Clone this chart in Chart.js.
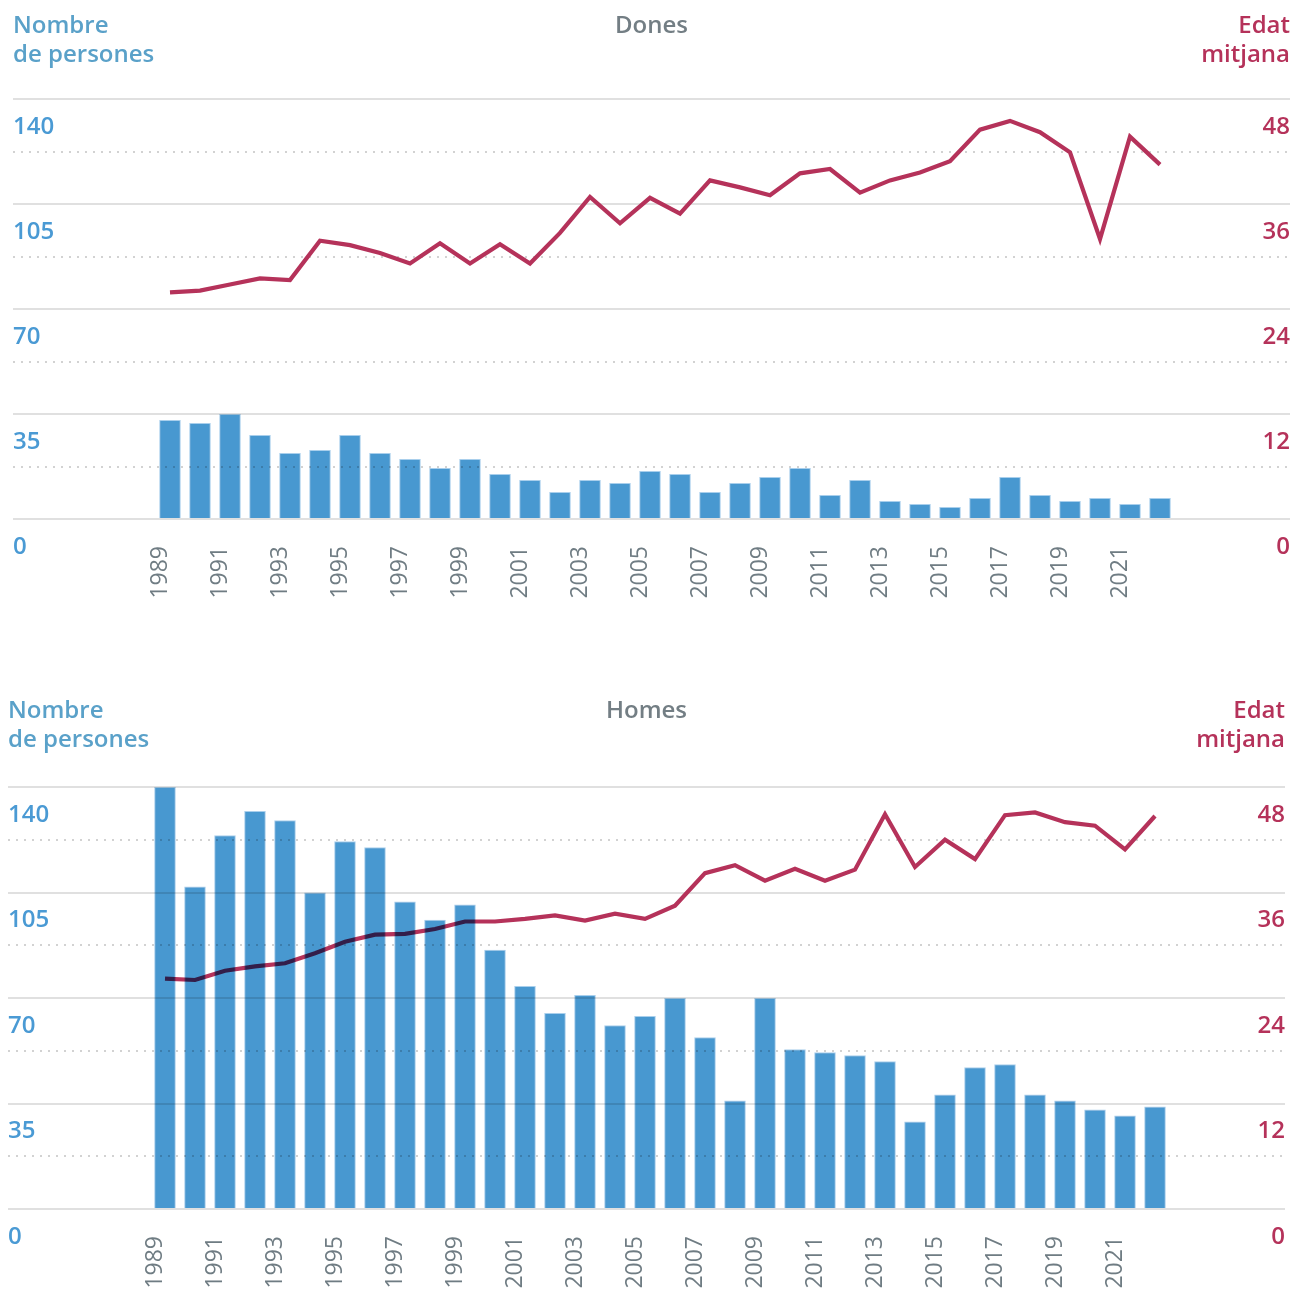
<!DOCTYPE html>
<html>
<head>
<meta charset="utf-8">
<script src="https://cdn.jsdelivr.net/npm/chart.js@4.4.1/dist/chart.umd.min.js"></script>
<style>
  html, body { margin:0; padding:0; background:#fff; }
  body { width:1295px; height:1289px; overflow:hidden; position:relative; font-family:'Open Sans','Noto Sans',sans-serif; }
  .panel { position:absolute; left:0; width:1295px; }
  .panel canvas { position:absolute; left:0; top:0; }
  .hdr { position:absolute; font-size:24px; line-height:29px; font-weight:600; white-space:nowrap; }
  .blue { color:#5aa1c9; }
  .red { color:#b5325a; text-align:right; }
  .ttl { color:#737e84; text-align:center; font-weight:600; }
</style>
</head>
<body>
<div class="panel" id="p1" style="top:0;height:640px;">
  <canvas id="c1" width="1295" height="640"></canvas>
  <div class="hdr blue" style="left:13px;top:9px;">Nombre<br>de persones</div>
  <div class="hdr ttl" style="left:13px;width:1277px;top:9px;">Dones</div>
  <div class="hdr red" style="right:5px;top:9px;">Edat<br>mitjana</div>
</div>
<div class="panel" id="p2" style="top:688px;height:601px;">
  <canvas id="c2" width="1295" height="601"></canvas>
  <div class="hdr blue" style="left:8px;top:6px;">Nombre<br>de persones</div>
  <div class="hdr ttl" style="left:8px;width:1277px;top:6px;">Homes</div>
  <div class="hdr red" style="right:10px;top:6px;">Edat<br>mitjana</div>
</div>
<script>
// ---- data ----
const years = [1989,1990,1991,1992,1993,1994,1995,1996,1997,1998,1999,2000,2001,2002,2003,2004,2005,2006,2007,2008,2009,2010,2011,2012,2013,2014,2015,2016,2017,2018,2019,2020,2021,2022];
const yearTickLabels = [1989,1991,1993,1995,1997,1999,2001,2003,2005,2007,2009,2011,2013,2015,2017,2019,2021];
const leftTicks = [0,35,70,105,140];
const rightTicks = [0,12,24,36,48];

const donesNombre = [33,32,35,28,22,23,28,22,20,17,20,15,13,9,13,12,16,15,9,12,14,17,8,13,6,5,4,7,14,8,6,7,5,7];
const donesEdat = [25.9,26.1,26.8,27.5,27.3,31.8,31.3,30.4,29.2,31.5,29.2,31.4,29.2,32.7,36.8,33.8,36.7,34.9,38.7,37.9,37.0,39.5,40.0,37.3,38.7,39.6,40.9,44.5,45.5,44.2,41.9,32.0,43.7,40.5];

const homesNombre = [140,107,124,132,129,105,122,120,102,96,101,86,74,65,71,61,64,70,57,36,70,53,52,51,49,29,38,47,48,38,36,33,31,34];
const homesEdat = [26.2,26.05,27.1,27.6,27.95,29.1,30.4,31.2,31.3,31.85,32.7,32.7,33.0,33.4,32.8,33.6,33.0,34.5,38.2,39.1,37.35,38.7,37.35,38.6,44.9,38.9,42.0,39.8,44.8,45.1,44.0,43.6,40.9,44.7];

// ---- styling ----
const FONT = "'Open Sans','Noto Sans',sans-serif";
const BAR_COLOR = '#4898d0';
const LINE_COLOR = '#b5325a';

const multiplyBars = {
  id: 'multiplyBars',
  beforeDatasetDraw(chart, args) {
    if (args.meta.type === 'bar') { chart.ctx.save(); chart.ctx.globalCompositeOperation = 'multiply'; }
  },
  afterDatasetDraw(chart, args) {
    if (args.meta.type === 'bar') { chart.ctx.restore(); }
  }
};

function makeChart(id, nombre, edat, padL, padR, xAxisH) {
  const barData = years.map((y, i) => ({ x: y, y: nombre[i] }));
  const lineData = years.map((y, i) => ({ x: y, y: edat[i] }));
  return new Chart(document.getElementById(id), {
    type: 'bar',
    data: {
      datasets: [
        { type: 'bar', data: barData, xAxisID: 'x', yAxisID: 'y', backgroundColor: BAR_COLOR,
          borderColor: '#a9cfec', borderWidth: 1, barPercentage: 0.9, categoryPercentage: 0.8, order: 1 },
        { type: 'line', data: lineData, xAxisID: 'x', yAxisID: 'y1', borderColor: LINE_COLOR,
          borderWidth: 4.2, pointRadius: 0, tension: 0, fill: false, borderJoinStyle: 'miter', order: 2 }
      ]
    },
    options: {
      responsive: false,
      animation: false,
      devicePixelRatio: 1,
      layout: { padding: { left: padL, right: padR, top: 99, bottom: 0 } },
      plugins: { legend: { display: false }, tooltip: { enabled: false }, title: { display: false } },
      scales: {
        x: {
          type: 'linear', min: 1983.767, max: 2026.333, offset: false,
          afterBuildTicks: s => { s.ticks = yearTickLabels.map(v => ({ value: v })); },
          ticks: { autoSkip: false, minRotation: 90, maxRotation: 90, padding: 27, labelOffset: -10,
                   color: '#6f7c83', font: { family: FONT, size: 23, weight: 500 },
                   callback: v => String(v) },
          grid: { display: false, drawTicks: false, offset: false },
          border: { display: false },
          afterFit: s => { s.height = xAxisH; }
        },
        y: {
          position: 'left', min: 0, max: 140,
          afterBuildTicks: s => { s.ticks = leftTicks.map(v => ({ value: v })); },
          ticks: { mirror: true, padding: 0, labelOffset: 28, color: '#4a9ad4',
                   font: { family: FONT, size: 24, weight: 600 }, callback: v => String(v) },
          grid: { color: '#e0e0e0', lineWidth: 2, drawTicks: false },
          border: { display: false },
          afterFit: s => { s.width = 0; }
        },
        y1: {
          position: 'right', min: 0, max: 48,
          ticks: { stepSize: 6, mirror: true, padding: 0, labelOffset: 28, color: LINE_COLOR,
                   font: { family: FONT, size: 24, weight: 600 },
                   callback: v => rightTicks.includes(v) ? String(v) : '' },
          grid: { color: c => (c.tick && rightTicks.includes(c.tick.value)) ? 'rgba(0,0,0,0)' : '#d2d2d2',
                  lineWidth: 2, drawTicks: false },
          border: { display: false, dash: [2, 6] },
          afterFit: s => { s.width = 0; }
        }
      }
    },
    plugins: [multiplyBars]
  });
}

makeChart('c1', donesNombre, donesEdat, 13, 5, 121);
makeChart('c2', homesNombre, homesEdat, 8, 10, 80);
</script>
</body>
</html>
